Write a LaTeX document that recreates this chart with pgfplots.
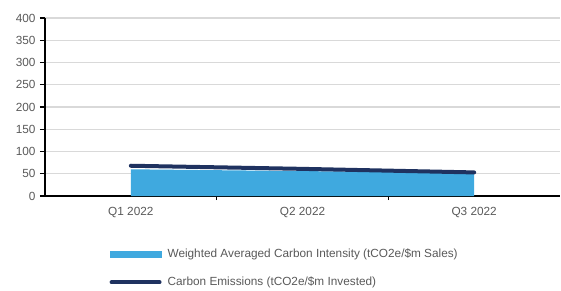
\documentclass[border=0pt]{standalone}
\usepackage{fontspec}
\setmainfont{Liberation Sans}
\usepackage{pgfplots}
\pgfplotsset{compat=1.18}
\definecolor{areablue}{RGB}{63,169,223}
\definecolor{navy}{RGB}{31,50,96}
\definecolor{txtgray}{RGB}{89,89,89}
\definecolor{gridgray}{RGB}{217,217,217}
\begin{document}
\begin{tikzpicture}[x=1pt,y=1pt]
\begin{axis}[
  scale only axis,
  width=515pt, height=178pt,
  xmin=-0.5, xmax=2.5,
  ymin=0, ymax=400,
  ytick={0,50,...,400},
  xtick={0,1,2},
  xticklabels={Q1 2022,Q2 2022,Q3 2022},
  minor xtick={0.5,1.5},
  axis x line*=bottom,
  axis y line*=left,
  axis line style={black, line width=1.5pt},
  x axis line style={-},
  y axis line style={-},
  ymajorgrids,
  grid style={gridgray, line width=1.2pt},
  major x tick style={draw=none},
  minor x tick style={black, line width=1.2pt},
  minor tick length=4pt,
  major y tick style={black, line width=1.2pt},
  major tick length=5pt,
  tick align=outside,
  ticklabel style={font=\fontsize{11.8}{13}\selectfont, text=txtgray},
  xticklabel style={yshift=-3pt},
  yticklabel style={xshift=-1pt},
  /pgf/number format/assume math mode=true,
  legend style={draw=none, fill=none, at={(0.125,-0.285)}, anchor=north west,
    font=\fontsize{11.8}{13}\selectfont, text=txtgray, row sep=14pt,
    inner sep=0pt, /tikz/every odd column/.append style={column sep=4pt}},
  legend cell align=left,
]
\addplot[fill=areablue, draw=none, area legend,
  legend image code/.code={\fill[areablue] (0pt,-3.5pt) rectangle (52pt,3.5pt);}]
  coordinates {(0,60) (1,56) (2,52)} \closedcycle;
\addlegendentry{Weighted Averaged Carbon Intensity (tCO2e/\$m Sales)}
\addplot[navy, line width=4pt, line cap=round,
  legend image code/.code={\draw[navy, line width=4pt, line cap=round] (2pt,0pt) -- (50pt,0pt);}]
  coordinates {(0,68) (1,61) (2,53)};
\addlegendentry{Carbon Emissions (tCO2e/\$m Invested)}
\end{axis}
\pgfresetboundingbox
\path (-45,-94) rectangle (516,196);
\end{tikzpicture}
\end{document}
